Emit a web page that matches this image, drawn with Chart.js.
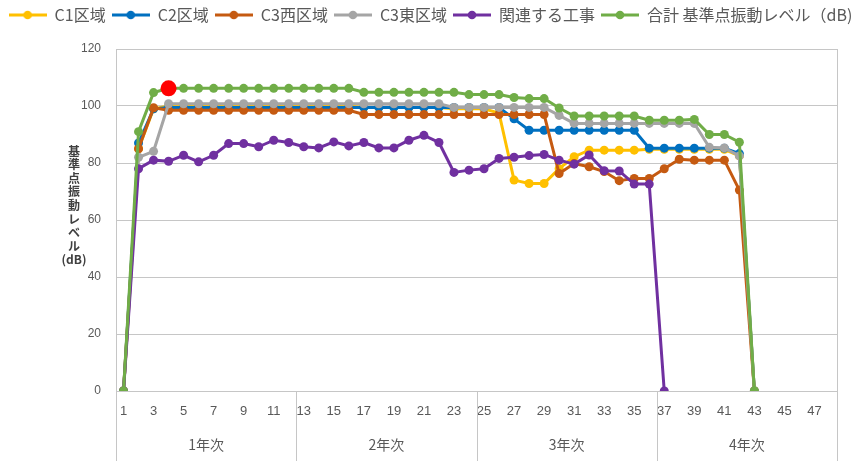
<!DOCTYPE html>
<html>
<head>
<meta charset="utf-8">
<script src="https://cdn.jsdelivr.net/npm/chart.js@4.4.0/dist/chart.umd.min.js"></script>
<style>
  html, body { margin: 0; padding: 0; background: #ffffff; }
  #wrap { width: 861px; height: 466px; position: relative; }
  canvas { display: block; }
</style>
</head>
<body>
<div id="wrap"><canvas id="chart" width="861" height="466"></canvas></div>
<script>
// Month index (1-48) along the bottom axis, grouped into four construction years
const categories = ['1','2','3','4','5','6','7','8','9','10','11','12',
                    '13','14','15','16','17','18','19','20','21','22','23','24',
                    '25','26','27','28','29','30','31','32','33','34','35','36',
                    '37','38','39','40','41','42','43','44','45','46','47','48'];
const yearLabels = ['1年次', '2年次', '3年次', '4年次'];

// Vibration level at the reference point (dB) per area
const c1Area = [0, 85, 99,
  100, 100, 100, 100, 100, 100, 100, 100, 100, 100, 100, 100, 100,
  99.5, 99.5, 99.5, 99.5, 99.5, 99.5, 99, 99, 99, 97.5,
  74, 72.8, 72.8, 78, 82.2, 84.5, 84.5, 84.5, 84.5,
  84.8, 84.8, 84.8, 84.8, 84.8, 84.8, 82.5, 0];
const c2Area = [0, 87, 99,
  99.5, 99.5, 99.5, 99.5, 99.5, 99.5, 99.5, 99.5, 99.5, 99.5, 99.5, 99.5,
  99.5, 99.5, 99.5, 99.5, 99.5, 99.5, 99.5, 99.5, 99.5, 99.5, 99.5,
  95.5, 91.5, 91.5, 91.5, 91.5, 91.5, 91.5, 91.5, 91.5,
  85.2, 85.2, 85.2, 85.2, 85.2, 85.2, 83.3, 0];
const c3WestArea = [0, 85, 99.4,
  98.5, 98.5, 98.5, 98.5, 98.5, 98.5, 98.5, 98.5, 98.5, 98.5, 98.5, 98.5, 98.5,
  97, 97, 97, 97, 97, 97, 97, 97, 97, 97, 97, 97, 97,
  76.3, 79.8, 78.7, 77, 73.8, 74.6, 74.6, 78, 81.3, 81, 81, 81, 70.5, 0];
const c3EastArea = [0, 82, 84.1,
  100.8, 100.8, 100.8, 100.8, 100.8, 100.8, 100.8, 100.8, 100.8, 100.8,
  100.8, 100.8, 100.8, 100.8, 100.8, 100.8, 100.8, 100.8, 100.8,
  99.5, 99.5, 99.5, 99.5, 99.5, 99.5, 99.5,
  96.7, 93.9, 93.9, 93.9, 93.9, 93.9, 93.9, 93.9, 93.9, 93.9,
  85.5, 85.3, 82.5, 0];
const relatedWorks = [0, 78, 81, 80.6, 82.7, 80.4, 82.7, 86.8, 86.8, 85.7, 88, 87.2,
  85.7, 85.3, 87.4, 86, 87.2, 85.3, 85.3, 88, 89.7, 87.2, 76.7, 77.5,
  78, 81.6, 82, 82.6, 83, 81, 79.6, 82.8, 77.3, 77.2, 72.6, 72.6, 0];
const totalLevel = [0, 91, 104.7,
  106.2, 106.2, 106.2, 106.2, 106.2, 106.2, 106.2, 106.2, 106.2, 106.2, 106.2, 106.2, 106.2,
  104.8, 104.8, 104.8, 104.8, 104.8, 104.8, 104.8, 104, 104, 104,
  103, 102.6, 102.6, 99.3, 96.5, 96.5, 96.5, 96.5, 96.5,
  95, 95, 95, 95.3, 90, 90, 87.3, 0];

const seriesNames = ['C1区域', 'C2区域', 'C3西区域', 'C3東区域', '関連する工事', '合計 基準点振動レベル（dB)'];
const seriesColors = ['#FFC000', '#0070C0', '#C55A11', '#A5A5A5', '#7030A0', '#70AD47'];
const seriesData = [c1Area, c2Area, c3WestArea, c3EastArea, relatedWorks, totalLevel];

// peak of the total level gets a red marker
const peakIndex = totalLevel.indexOf(Math.max(...totalLevel));

const TEXT = '#595959';
const GRID = '#c6c6c6';
const CJK = '"Noto Sans CJK JP", "Noto Sans", sans-serif';
const NUM = '"Liberation Sans", Arial, sans-serif';

// line-with-dot swatch for the legend
function legendSwatch(color) {
  const cv = document.createElement('canvas');
  cv.width = 38; cv.height = 12;
  const g = cv.getContext('2d');
  g.strokeStyle = color; g.lineWidth = 3;
  g.beginPath(); g.moveTo(0, 6); g.lineTo(38, 6); g.stroke();
  g.fillStyle = color;
  g.beginPath(); g.arc(19, 6, 4.3, 0, Math.PI * 2); g.fill();
  return cv;
}

const datasets = seriesData.map((values, i) => ({
  label: seriesNames[i],
  data: values,
  borderColor: seriesColors[i],
  backgroundColor: seriesColors[i],
  borderWidth: 3,
  pointRadius: 4.5,
  pointHoverRadius: 4.5,
  pointBorderWidth: 0,
  pointBackgroundColor: seriesColors[i],
  tension: 0,
  order: seriesData.length - i,
  xAxisID: 'x',
  yAxisID: 'y'
}));

// highlight the peak point of the total
const totalSet = datasets[datasets.length - 1];
totalSet.pointRadius = ctx => ctx.dataIndex === peakIndex ? 8 : 4.5;
totalSet.pointBackgroundColor = ctx => ctx.dataIndex === peakIndex ? '#FF0000' : seriesColors[5];

// extra room under the legend row
const legendGap = {
  id: 'legendGap',
  beforeLayout(chart) {
    const lg = chart.legend;
    if (lg && !lg._gapPatched) {
      const fit = lg.fit.bind(lg);
      lg.fit = function () { fit(); this.height += 16; };
      lg._gapPatched = true;
    }
  }
};

// frame lines: right border of the plot and year separators under the axis
const framePlugin = {
  id: 'frame',
  afterDraw(chart) {
    const { ctx, chartArea: a } = chart;
    const n = categories.length;
    const step = (a.right - a.left) / n;
    ctx.save();
    ctx.strokeStyle = GRID;
    ctx.lineWidth = 1;
    ctx.beginPath();
    ctx.moveTo(a.right + 0.5, a.top);
    ctx.lineTo(a.right + 0.5, a.bottom);
    for (let k = 0; k <= n; k += 12) {
      const x = Math.round(a.left + k * step) + 0.5;
      ctx.moveTo(x, a.bottom);
      ctx.lineTo(x, a.bottom + 70);
    }
    ctx.stroke();

    // vertical axis title, one character per line
    const lines = ['基', '準', '点', '振', '動', 'レ', 'ベ', 'ル', '(dB)'];
    ctx.fillStyle = '#404040';
    ctx.font = 'bold 12px ' + CJK;
    ctx.textAlign = 'center';
    ctx.textBaseline = 'middle';
    lines.forEach((t, i) => ctx.fillText(t, 74, 151 + i * 13.6));
    ctx.restore();
  }
};

new Chart(document.getElementById('chart'), {
  type: 'line',
  data: { labels: categories, datasets },
  options: {
    responsive: false,
    animation: false,
    devicePixelRatio: 1,
    layout: { padding: { left: 0, right: 0, top: 1, bottom: 0 } },
    plugins: {
      tooltip: { enabled: false },
      legend: {
        position: 'top',
        labels: {
          usePointStyle: true,
          pointStyleWidth: 38,
          padding: 6,
          color: TEXT,
          font: { family: CJK, size: 16 },
          sort: (a, b) => a.datasetIndex - b.datasetIndex,
          generateLabels(chart) {
            const items = Chart.defaults.plugins.legend.labels.generateLabels(chart);
            items.forEach(it => { it.pointStyle = legendSwatch(seriesColors[it.datasetIndex]); });
            return items;
          }
        }
      }
    },
    scales: {
      x: {
        type: 'category',
        position: 'bottom',
        offset: true,
        grid: { display: false, drawTicks: false },
        border: { display: true, color: GRID, width: 1 },
        ticks: {
          autoSkip: false,
          maxRotation: 0,
          padding: 13,
          color: TEXT,
          font: { family: NUM, size: 13 },
          callback: (v, i) => (i % 2 === 0 ? categories[i] : '')
        },
        afterFit: s => { s.height = 31; }
      },
      years: {
        type: 'category',
        position: 'bottom',
        labels: yearLabels,
        offset: true,
        grid: { display: false, drawTicks: false },
        border: { display: false },
        ticks: { padding: 14, color: TEXT, font: { family: CJK, size: 14 } },
        afterFit: s => { s.height = 44; }
      },
      y: {
        min: 0,
        max: 120,
        ticks: { stepSize: 20, padding: 15, color: TEXT, font: { family: NUM, size: 12 } },
        grid: { color: GRID, drawTicks: false },
        border: { display: true, color: GRID },
        afterFit: s => { s.width = 116; }
      },
      rightEdge: {
        position: 'right',
        min: 0,
        max: 120,
        ticks: { display: false },
        grid: { display: false, drawTicks: false },
        border: { display: false },
        afterFit: s => { s.width = 24; }
      }
    }
  },
  plugins: [legendGap, framePlugin]
});
</script>
</body>
</html>
